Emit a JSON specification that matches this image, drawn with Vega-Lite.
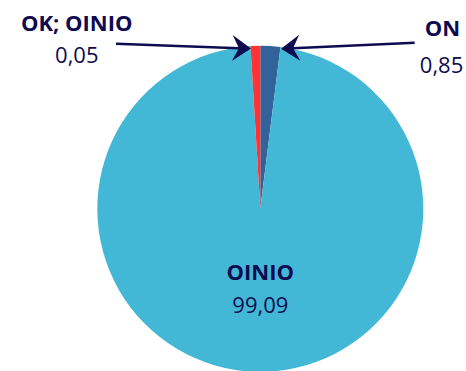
{
  "$schema": "https://vega.github.io/schema/vega-lite/v6.json",
  "width": 466,
  "height": 371,
  "autosize": {"type": "fit", "contains": "padding"},
  "padding": 0,
  "background": "white",
  "config": {"view": {"stroke": null}},
  "datasets": {
    "slices": [
      {"category": "ON", "share": 1.98, "order": 1},
      {"category": "OINIO", "share": 97.06, "order": 2},
      {"category": "OK; OINIO", "share": 0.96, "order": 3}
    ],
    "labels": [
      {"text": "OK; OINIO", "kind": "name", "x": -1.126, "y": 1.098},
      {"text": "0,05", "kind": "value", "x": -1.126, "y": 0.902},
      {"text": "ON", "kind": "name", "x": 1.118, "y": 1.063},
      {"text": "0,85", "kind": "value", "x": 1.112, "y": 0.84},
      {"text": "OINIO", "kind": "name", "x": 0, "y": -0.44},
      {"text": "99,09", "kind": "value", "x": 0, "y": -0.644}
    ],
    "arrows": [
      {"side": "left", "x1": -0.885, "y1": 1.018, "x2": -0.131, "y2": 0.991},
      {"side": "right", "x1": 0.947, "y1": 1.025, "x2": 0.201, "y2": 0.991}
    ]
  },
  "layer": [
    {
      "data": {"name": "slices"},
      "mark": {"type": "arc", "outerRadius": 163},
      "encoding": {
        "theta": {"field": "share", "type": "quantitative", "stack": true},
        "order": {"field": "order", "type": "quantitative", "sort": "ascending"},
        "color": {
          "field": "category",
          "type": "nominal",
          "scale": {"domain": ["ON", "OINIO", "OK; OINIO"], "range": ["#31639a", "#42b8d6", "#ff3333"]},
          "legend": null
        },
        "x": {"datum": 0, "type": "quantitative", "scale": {"domain": [-1.597, 1.262], "nice": false, "zero": false}, "axis": null},
        "y": {"datum": 0, "type": "quantitative", "scale": {"domain": [-0.988, 1.288], "nice": false, "zero": false}, "axis": null}
      }
    },
    {
      "data": {"name": "arrows"},
      "mark": {"type": "rule", "color": "#0e0b50", "strokeWidth": 2.5},
      "encoding": {
        "x": {"field": "x1", "type": "quantitative", "scale": {"domain": [-1.597, 1.262], "nice": false, "zero": false}, "axis": null},
        "y": {"field": "y1", "type": "quantitative", "scale": {"domain": [-0.988, 1.288], "nice": false, "zero": false}, "axis": null},
        "x2": {"field": "x2"},
        "y2": {"field": "y2"}
      }
    },
    {
      "data": {"name": "arrows"},
      "transform": [{"filter": "datum.side === 'left'"}],
      "mark": {"type": "point", "shape": "M1.2,0L-0.67,-1.3L0,0L-0.67,1.3Z", "size": 400, "filled": true, "opacity": 1, "color": "#0e0b50", "angle": 2},
      "encoding": {
        "x": {"field": "x2", "type": "quantitative", "scale": {"domain": [-1.597, 1.262], "nice": false, "zero": false}, "axis": null},
        "y": {"field": "y2", "type": "quantitative", "scale": {"domain": [-0.988, 1.288], "nice": false, "zero": false}, "axis": null}
      }
    },
    {
      "data": {"name": "arrows"},
      "transform": [{"filter": "datum.side === 'right'"}],
      "mark": {"type": "point", "shape": "M1.2,0L-0.67,-1.3L0,0L-0.67,1.3Z", "size": 400, "filled": true, "opacity": 1, "color": "#0e0b50", "angle": 177.5},
      "encoding": {
        "x": {"field": "x2", "type": "quantitative", "scale": {"domain": [-1.597, 1.262], "nice": false, "zero": false}, "axis": null},
        "y": {"field": "y2", "type": "quantitative", "scale": {"domain": [-0.988, 1.288], "nice": false, "zero": false}, "axis": null}
      }
    },
    {
      "data": {"name": "labels"},
      "transform": [{"filter": "datum.kind === 'name'"}],
      "mark": {"type": "text", "font": "Open Sans", "fontSize": 22, "fontWeight": "bold", "color": "#0e0b50", "align": "center", "baseline": "alphabetic"},
      "encoding": {
        "x": {"field": "x", "type": "quantitative", "scale": {"domain": [-1.597, 1.262], "nice": false, "zero": false}, "axis": null},
        "y": {"field": "y", "type": "quantitative", "scale": {"domain": [-0.988, 1.288], "nice": false, "zero": false}, "axis": null},
        "text": {"field": "text", "type": "nominal"}
      }
    },
    {
      "data": {"name": "labels"},
      "transform": [{"filter": "datum.kind === 'value'"}],
      "mark": {"type": "text", "font": "Open Sans", "fontSize": 22, "fontWeight": "normal", "color": "#0e0b50", "align": "center", "baseline": "alphabetic"},
      "encoding": {
        "x": {"field": "x", "type": "quantitative", "scale": {"domain": [-1.597, 1.262], "nice": false, "zero": false}, "axis": null},
        "y": {"field": "y", "type": "quantitative", "scale": {"domain": [-0.988, 1.288], "nice": false, "zero": false}, "axis": null},
        "text": {"field": "text", "type": "nominal"}
      }
    }
  ]
}
